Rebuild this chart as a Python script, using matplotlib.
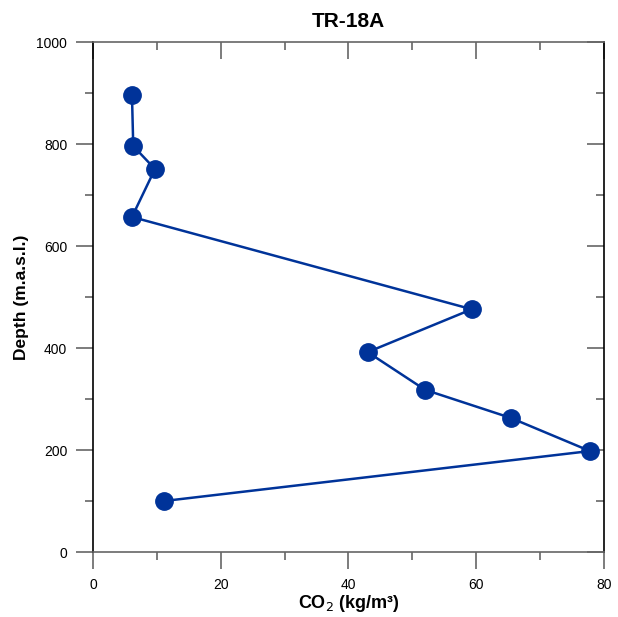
import matplotlib
matplotlib.use("Agg")
import matplotlib.pyplot as plt
from matplotlib.ticker import MultipleLocator

plt.rcParams['font.family'] = ['Liberation Sans', 'DejaVu Sans']

# data
co2 = [6.1, 6.3, 9.7, 6.1, 59.3, 43.0, 52.0, 65.4, 77.8, 11.1]
depth = [896, 796, 751, 657, 476, 392, 318, 263, 198, 100]

fig = plt.figure(figsize=(6.18, 6.17), dpi=100)
ax = fig.add_axes([0.1505, 0.1053, 0.8268, 0.8266])

ax.plot(co2, depth, color='#003399', lw=1.8, marker='o', ms=12.5,
        markerfacecolor='#003399', markeredgecolor='#003399', clip_on=False, zorder=3)

ax.set_xlim(0, 80)
ax.set_ylim(0, 1000)
ax.xaxis.set_major_locator(MultipleLocator(20))
ax.xaxis.set_minor_locator(MultipleLocator(10))
ax.yaxis.set_major_locator(MultipleLocator(200))
ax.yaxis.set_minor_locator(MultipleLocator(100))

tc = '#666666'
ax.tick_params(axis='both', which='major', length=12, width=1.2, color=tc,
               labelsize=10, pad=6.5)
ax.tick_params(axis='both', which='minor', length=6, width=1.2, color=tc)
ax.tick_params(axis='x', which='both', top=True, direction='out')
ax.tick_params(axis='y', which='both', right=True, direction='out')
# top / right ticks point inward
for t in ax.xaxis.get_major_ticks() + ax.xaxis.get_minor_ticks():
    t.tick2line.set_marker(3)
for t in ax.yaxis.get_major_ticks() + ax.yaxis.get_minor_ticks():
    t.tick2line.set_marker(0)

ax.spines['left'].set_color('black')
ax.spines['right'].set_color('black')
ax.spines['top'].set_color(tc)
ax.spines['bottom'].set_color(tc)
for s in ax.spines.values():
    s.set_linewidth(1.2)

ax.set_xlabel('CO$_2$ (kg/m³)', fontsize=13, fontweight='bold', labelpad=1)
ax.set_ylabel('Depth (m.a.s.l.)', fontsize=12.5, fontweight='bold', labelpad=5.5)
ax.set_title('TR-18A', fontsize=15, fontweight='bold', pad=11)

fig.savefig('out.png', dpi=100)
